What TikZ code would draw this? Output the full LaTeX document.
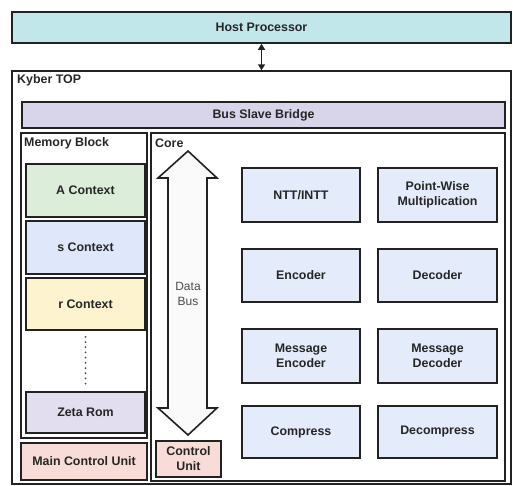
\documentclass[tikz,border=0pt]{standalone}
\usepackage{fontspec}
\setmainfont{Liberation Sans}
\usetikzlibrary{arrows.meta,calc}
\definecolor{hostc}{HTML}{C2E7EB}
\definecolor{bridgec}{HTML}{D8D4EA}
\definecolor{ctxa}{HTML}{DCEDDA}
\definecolor{ctxs}{HTML}{DEE8FA}
\definecolor{ctxr}{HTML}{FDF3CF}
\definecolor{zetac}{HTML}{E2DDEF}
\definecolor{ctrlc}{HTML}{F7DCD8}
\definecolor{unitc}{HTML}{E4EBFB}
\definecolor{edgec}{HTML}{222222}
\tikzset{
  blk/.style={draw=edgec, line width=1.6pt, inner sep=0pt, align=center,
    font=\fontsize{12.4}{15}\selectfont\bfseries, text=black!85},
  cont/.style={draw=edgec, line width=1.4pt, inner sep=0pt},
  lbl/.style={anchor=west, inner sep=0pt, font=\fontsize{12.4}{15}\selectfont\bfseries, text=black!85},
}
\begin{document}
\begin{tikzpicture}[x=1pt,y=-1pt]
\useasboundingbox (0,0) rectangle (513,486);
% containers
\node[cont, minimum width=499, minimum height=413] (kyber) at (261.5,277.5) {};
\node[lbl] (kyberlbl) at (17,80) {Kyber TOP};
\node[cont, minimum width=126, minimum height=305] (mem) at (84,285.5) {};
\node[lbl] (memlbl) at (24,143) {Memory Block};
\node[cont, minimum width=354, minimum height=348] (core) at (328,307) {};
\node[lbl] (corelbl) at (155,143) {Core};
% host
\node[blk, fill=hostc, minimum width=499, minimum height=31] (host) at (261.5,27.5) {Host Processor};
\draw[line width=1.5pt, edgec, {Triangle[length=6pt,width=7pt]}-{Triangle[length=6pt,width=7pt]}] (host.south) -- (kyber.north);
% bridge
\node[blk, fill=bridgec, minimum width=483, minimum height=26] (bridge) at (263.5,115) {Bus Slave Bridge};
% memory
\node[blk, fill=ctxa, minimum width=119, minimum height=53] (actx) at (85.5,190.5) {A Context};
\node[blk, fill=ctxs, minimum width=119, minimum height=53] (sctx) at (85.5,247.5) {s Context};
\node[blk, fill=ctxr, minimum width=119, minimum height=52] (rctx) at (85.5,304) {r Context};
\node[blk, fill=zetac, minimum width=119, minimum height=41] (zeta) at (85.5,412.5) {Zeta Rom};
\draw[edgec!80, line width=2pt, dash pattern=on 0pt off 5.2pt, line cap=round] ($(rctx.south)+(0,6)$) coordinate (d1) -- ($(zeta.north)+(0,-7)$) coordinate (d2);
\node[blk, fill=ctrlc, minimum width=126, minimum height=37] (mcu) at (84,461.5) {Main Control Unit};
% data bus
\draw[edgec, line width=1.6pt, fill=white!98!black, line join=miter]
  (188,151) -- (217,178) -- (207,178) -- (207,408) -- (217,408) -- (188,435)
  -- (158,408) -- (168,408) -- (168,178) -- (158,178) -- cycle;
\node[inner sep=0pt, align=center, font=\fontsize{12}{15}\selectfont, text=black!70] (dbus) at (188,294) {Data\\Bus};
\node[blk, fill=ctrlc, minimum width=65, minimum height=36] (cu) at (188.5,459) {Control\\Unit};
% units
\node[blk, fill=unitc, minimum width=118, minimum height=54] (ntt) at (301,195) {NTT/INTT};
\node[blk, fill=unitc, minimum width=119, minimum height=54] (pwm) at (437.5,195) {Point-Wise\\Multiplication};
\node[blk, fill=unitc, minimum width=118, minimum height=53] (enc) at (301,275.5) {Encoder};
\node[blk, fill=unitc, minimum width=119, minimum height=53] (dec) at (437.5,275.5) {Decoder};
\node[blk, fill=unitc, minimum width=118, minimum height=54] (menc) at (301,356) {Message\\Encoder};
\node[blk, fill=unitc, minimum width=119, minimum height=54] (mdec) at (437.5,356) {Message\\Decoder};
\node[blk, fill=unitc, minimum width=118, minimum height=52] (cmp) at (301,432) {Compress};
\node[blk, fill=unitc, minimum width=119, minimum height=52] (dcmp) at (437.5,432) {Decompress};
\end{tikzpicture}
\end{document}
